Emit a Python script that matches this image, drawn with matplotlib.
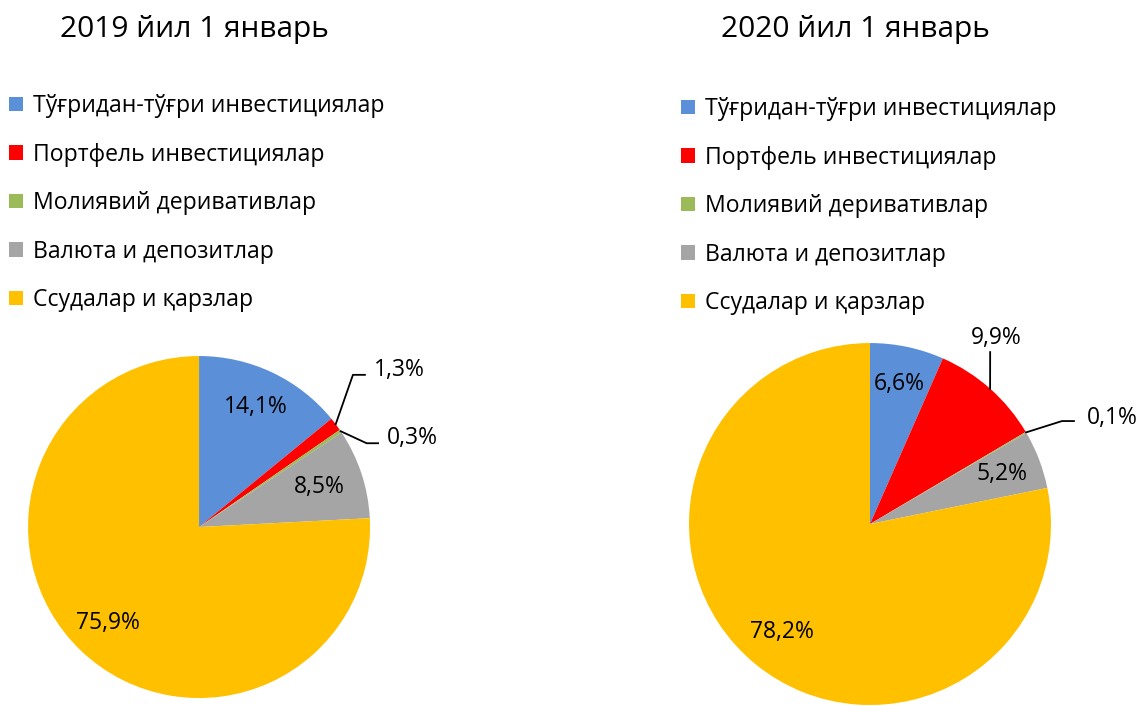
import numpy as np
import matplotlib
matplotlib.use("Agg")
import matplotlib.pyplot as plt
from matplotlib.patches import Patch

plt.rcParams['font.family'] = ['Open Sans', 'DejaVu Sans']

categories = ["Тўғридан-тўғри инвестициялар", "Портфель инвестициялар",
              "Молиявий деривативлар", "Валюта и депозитлар", "Ссудалар и қарзлар"]
colors = ["#5B8FD8", "#FF0000", "#9BBB59", "#A5A5A5", "#FFC000"]
titles = ["2019 йил 1 январь", "2020 йил 1 январь"]
values_2019 = [14.1, 1.3, 0.3, 8.5, 75.9]
values_2020 = [6.6, 9.9, 0.1, 5.2, 78.2]
labels_2019 = ["14,1%", "1,3%", "0,3%", "8,5%", "75,9%"]
labels_2020 = ["6,6%", "9,9%", "0,1%", "5,2%", "78,2%"]

fig = plt.figure(figsize=(11.4, 7.06), dpi=100)

# pie axes: [left, bottom, width, height] in figure fraction
ax1 = fig.add_axes([0.0246, 0.0113, 0.3, 0.4844])
ax2 = fig.add_axes([0.6044, 0.0014, 0.3175, 0.5127])

LBL = 16.5


def mid_angle(vals, i):
    s = sum(vals)
    start = sum(vals[:i]) / s * 360
    mid = start + vals[i] / s * 360 / 2
    return np.deg2rad(90 - mid)


def draw_pie(ax, vals, labs, inside, outside):
    ax.pie(vals, colors=colors, startangle=90, counterclock=False,
           wedgeprops=dict(linewidth=0), radius=1)
    ax.set_xlim(-1, 1)
    ax.set_ylim(-1, 1)
    ax.set_aspect('equal')
    ax.axis('off')
    for i, r in inside.items():
        a = mid_angle(vals, i)
        ax.text(r * np.cos(a), r * np.sin(a), labs[i], ha='center', va='center',
                fontsize=LBL, color='#000000')
    for i, (elbow, end, txt) in outside.items():
        a = mid_angle(vals, i)
        x0, y0 = np.cos(a), np.sin(a)
        ax.plot([x0, elbow[0], end[0]], [y0, elbow[1], end[1]], color='black',
                lw=1.3, clip_on=False)
        ax.text(txt[0], txt[1], labs[i], ha='center', va='center', fontsize=LBL,
                clip_on=False)


draw_pie(ax1, values_2019, labels_2019,
         {0: 0.78, 3: 0.74, 4: 0.77},
         {1: ((0.90, 0.89), (0.97, 0.89), (1.17, 0.918)),
          2: ((0.98, 0.49), (1.047, 0.49), (1.25, 0.52))})
draw_pie(ax2, values_2020, labels_2020,
         {0: 0.79, 3: 0.78, 4: 0.77},
         {1: ((0.664, 0.95), (0.664, 0.95), (0.696, 1.03)),
          2: ((1.061, 0.569), (1.127, 0.569), (1.34, 0.586))})

fig.text(194 / 1140, 1 - 30 / 706, titles[0], ha='center', va='center', fontsize=21.5)
fig.text(855 / 1140, 1 - 30 / 706, titles[1], ha='center', va='center', fontsize=21.5)

handles = [Patch(facecolor=c, edgecolor='none') for c in colors]
for xa, ya in [(0.0, 1 - 85 / 706), (0.589, 1 - 88 / 706)]:
    fig.legend(handles, categories, loc='upper left', bbox_to_anchor=(xa, ya),
               frameon=False, fontsize=16.6, handlelength=0.6, handleheight=0.6,
               handletextpad=0.45, labelspacing=1.06, borderaxespad=0)

plt.savefig('out.png', dpi=100)
